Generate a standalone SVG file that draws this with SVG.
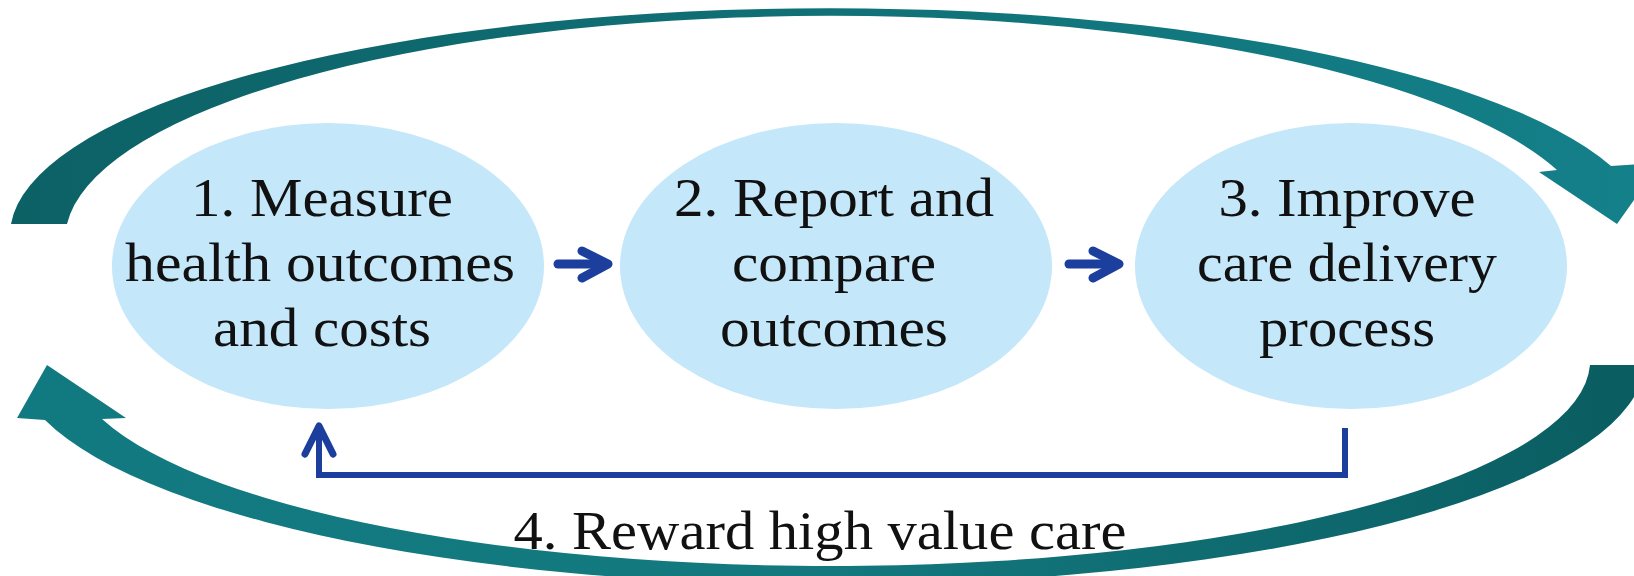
<svg xmlns="http://www.w3.org/2000/svg" width="1634" height="576" viewBox="0 0 1634 576">
  <style>
    .node ellipse { fill: #c4e7fa; }
    .lbl { font-family: "Liberation Serif", "Times New Roman", serif; font-size: 54px; fill: #111; text-anchor: middle; }
    .blue { fill: none; stroke: #1c3f9e; stroke-width: 9; stroke-linecap: round; stroke-linejoin: round; }
    .bracket { fill: none; stroke: #1c3f9e; stroke-width: 6; stroke-linejoin: miter; }
  </style>
  <defs>
    <linearGradient id="gTop" gradientUnits="userSpaceOnUse" x1="0" y1="0" x2="1634" y2="0">
      <stop offset="0" stop-color="#0c6165"/>
      <stop offset="1" stop-color="#148089"/>
    </linearGradient>
    <linearGradient id="gBot" gradientUnits="userSpaceOnUse" x1="1634" y1="365" x2="0" y2="420">
      <stop offset="0" stop-color="#0a5d61"/>
      <stop offset="0.5" stop-color="#13797f"/>
      <stop offset="1" stop-color="#117a80"/>
    </linearGradient>
  </defs>

  <g id="cycle-arcs">
    <path id="arc-top" fill="url(#gTop)" d="M 11,224 A 820 227 0 0 1 1611,166 L 1660,163 L 1617,224 L 1539,172 L 1557,170 A 765 224 0 0 0 67,224 Z"/>
    <path id="arc-bottom" fill="url(#gBot)" d="M 1590,365 A 760 206 0 0 1 102,419 L 126,418 L 47,365 L 17,418 L 45,420 A 815 225 0 0 0 1645,365 Z"/>
  </g>

  <g id="node1" class="node">
    <ellipse cx="328" cy="266" rx="216" ry="143"/>
    <text class="lbl" x="322" y="216" textLength="262" lengthAdjust="spacingAndGlyphs">1. Measure</text>
    <text class="lbl" x="320" y="281" textLength="390" lengthAdjust="spacingAndGlyphs">health outcomes</text>
    <text class="lbl" x="322" y="346" textLength="218" lengthAdjust="spacingAndGlyphs">and costs</text>
  </g>

  <g id="node2" class="node">
    <ellipse cx="836" cy="266" rx="216" ry="143"/>
    <text class="lbl" x="834" y="216" textLength="320" lengthAdjust="spacingAndGlyphs">2. Report and</text>
    <text class="lbl" x="834" y="281" textLength="204" lengthAdjust="spacingAndGlyphs">compare</text>
    <text class="lbl" x="834" y="346" textLength="228" lengthAdjust="spacingAndGlyphs">outcomes</text>
  </g>

  <g id="node3" class="node">
    <ellipse cx="1351" cy="266" rx="216" ry="143"/>
    <text class="lbl" x="1347" y="216" textLength="257" lengthAdjust="spacingAndGlyphs">3. Improve</text>
    <text class="lbl" x="1347" y="281" textLength="300" lengthAdjust="spacingAndGlyphs">care delivery</text>
    <text class="lbl" x="1347" y="346" textLength="176" lengthAdjust="spacingAndGlyphs">process</text>
  </g>

  <g id="connectors">
    <g id="arrow-1-2">
      <path class="blue" d="M 558,264 L 606,264"/>
      <path class="blue" d="M 582,251 L 608,264 L 582,278"/>
    </g>
    <g id="arrow-2-3">
      <path class="blue" d="M 1069,264 L 1117,264"/>
      <path class="blue" d="M 1093,251 L 1119,264 L 1093,278"/>
    </g>
    <g id="arrow-3-1">
      <path class="bracket" d="M 1345,428 L 1345,475 L 319,475 L 319,428"/>
      <path class="blue" style="stroke-width:7" d="M 305,454 L 319,426 L 333,454"/>
    </g>
  </g>

  <g id="label4">
    <text class="lbl" x="820" y="549" textLength="613" lengthAdjust="spacingAndGlyphs">4. Reward high value care</text>
  </g>
</svg>
